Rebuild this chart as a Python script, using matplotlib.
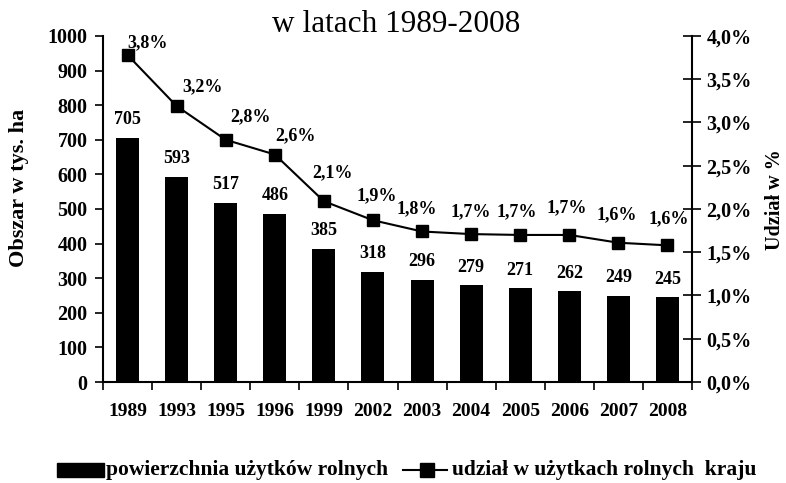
import matplotlib
matplotlib.use("Agg")
import matplotlib.pyplot as plt
from matplotlib.lines import Line2D
from matplotlib.patches import Rectangle
import numpy as np

years = ["1989", "1993", "1995", "1996", "1999", "2002", "2003", "2004", "2005", "2006", "2007", "2008"]
area = [705, 593, 517, 486, 385, 318, 296, 279, 271, 262, 249, 245]
share = [3.78, 3.19, 2.80, 2.63, 2.09, 1.87, 1.74, 1.71, 1.70, 1.70, 1.61, 1.58]
share_labels = ["3,8%", "3,2%", "2,8%", "2,6%", "2,1%", "1,9%", "1,8%", "1,7%", "1,7%", "1,7%", "1,6%", "1,6%"]
left_ticks = [0, 100, 200, 300, 400, 500, 600, 700, 800, 900, 1000]
right_ticks = [0.0, 0.5, 1.0, 1.5, 2.0, 2.5, 3.0, 3.5, 4.0]

title = "w latach 1989-2008"
ylabel_left = "Obszar w tys. ha"
ylabel_right = "Udział w %"
legend_bar = "powierzchnia użytków rolnych"
legend_line = "udział w użytkach rolnych  kraju"

# label placement offsets (pixels, layout only)
lab_dx = [20, 26, 25, 21, 9, 4, -5, 0, -3, -3, -2, 1]
lab_dy = [12, 19, 23, 19, 28, 25, 23, 22, 23, 27, 28, 27]

plt.rcParams["font.family"] = ["Liberation Serif", "DejaVu Serif"]

W, H = 786, 483
fig = plt.figure(figsize=(W/100, H/100), dpi=100)
ax = fig.add_axes([103/W, 1-382/H, (692-103)/W, (382-36)/H])
x = np.arange(len(years))
ax.bar(x, area, width=0.47, color="black")
ax.set_xlim(-0.5, len(years)-0.5)
ax.set_ylim(0, 1000)
ax.set_yticks(left_ticks)
ax.set_yticklabels([str(v) for v in left_ticks], fontsize=14.5, fontweight="bold")
ax.set_xticks(x)
ax.set_xticklabels(years, fontsize=14, fontweight="bold")
ax.tick_params(axis="x", length=0, pad=15)
ax.set_xticks(np.arange(len(years)+1)-0.5, minor=True)
ax.tick_params(axis="x", which="minor", length=6, width=1.2, direction="out")
ax.tick_params(axis="y", length=6, width=1.2, direction="out", pad=5)
for s in ["top", "right"]:
    ax.spines[s].set_visible(False)
ax.spines["left"].set_linewidth(1.5)
ax.spines["bottom"].set_linewidth(1.5)

for xi, v in zip(x, area):
    ax.annotate(str(v), (xi, v), xytext=(0, 7), textcoords="offset points",
                ha="center", va="bottom", fontsize=13, fontweight="bold")

ax2 = ax.twinx()
ax2.set_ylim(0, 4.0)
ax2.plot(x, share, color="black", lw=1.5, marker="s", markersize=9)
ax2.set_yticks(right_ticks)
ax2.set_yticklabels([f"{v:.1f}%".replace(".", ",") for v in right_ticks], fontsize=14.5, fontweight="bold")
ax2.tick_params(axis="y", length=13, width=1.2, direction="inout", pad=4)
for s in ["top", "left", "bottom"]:
    ax2.spines[s].set_visible(False)
ax2.spines["right"].set_linewidth(1.5)

for xi, v, lab, dx, dy in zip(x, share, share_labels, lab_dx, lab_dy):
    ax2.annotate(lab, (xi, v), xytext=(dx*0.72, dy*0.72), textcoords="offset points",
                 ha="center", va="center", fontsize=13, fontweight="bold")

fig.text(19/W, 1-188/H, ylabel_left, rotation=90, ha="center", va="center", fontsize=16, fontweight="bold")
fig.text(775/W, 1-200/H, ylabel_right, rotation=90, ha="center", va="center", fontsize=14.5, fontweight="bold")
fig.text(396/W, 1-24/H, title, ha="center", va="center", fontsize=22.5)

# legend drawn in figure pixel space
fig.patches.append(Rectangle((57/W, 1-477/H), 47/W, 14/H, transform=fig.transFigure,
                             facecolor="black", edgecolor="black"))
fig.text(106/W, 1-470/H, legend_bar, ha="left", va="center", fontsize=15.5, fontweight="bold")
fig.lines.append(Line2D([403/W, 447/W], [1-470/H, 1-470/H], transform=fig.transFigure,
                        color="black", lw=1.5))
fig.lines.append(Line2D([427/W], [1-470/H], transform=fig.transFigure, color="black",
                        marker="s", markersize=10, lw=0))
fig.text(452/W, 1-470/H, legend_line, ha="left", va="center", fontsize=15.5, fontweight="bold")

fig.savefig("out.png", dpi=100)
